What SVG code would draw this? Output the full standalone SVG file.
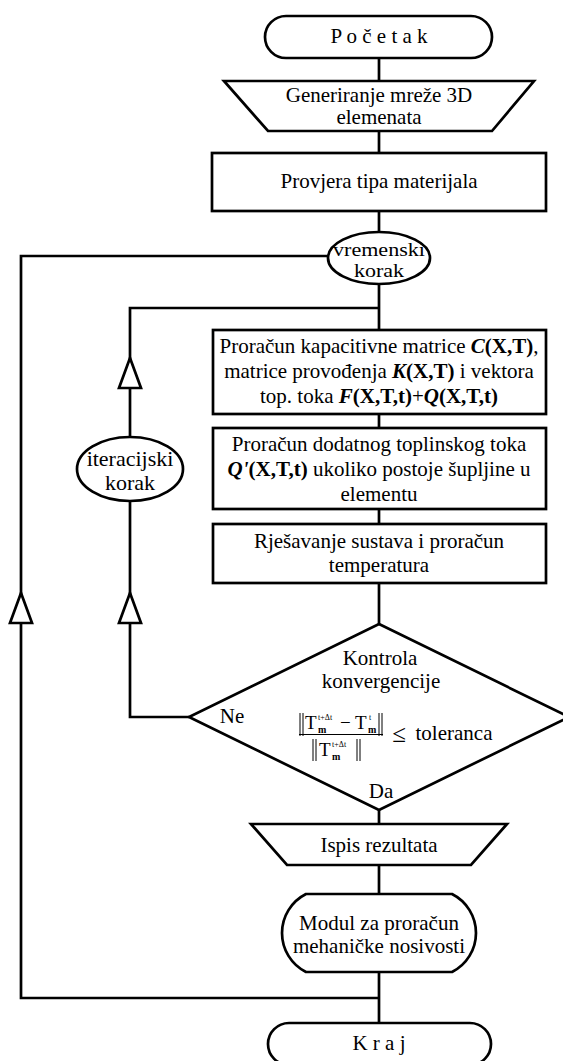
<svg xmlns="http://www.w3.org/2000/svg" width="563" height="1061" viewBox="0 0 563 1061">
<style>
.s{fill:#fff;stroke:#000;stroke-width:2.7}
.c{fill:none;stroke:#000;stroke-width:2.7}
.a{fill:#fff;stroke:#000;stroke-width:2.7;stroke-linejoin:miter}
.n{stroke:#000;stroke-width:1}
text{font-family:"Liberation Serif","Times New Roman",serif;font-size:21px;fill:#000;text-anchor:middle}
.b{font-weight:bold}
.bi{font-weight:bold;font-style:italic}
.f{font-size:19px;text-anchor:start}
.sup{font-size:8px;text-anchor:start}
.sub{font-size:10px;font-weight:bold;text-anchor:start}
</style>
<rect width="563" height="1061" fill="#fff"/>
<g id="connectors">
<path class="c" d="M379,58V81M379,131V153M379,211V232M379,284V330M379,414V428M379,509V524M379,583V624M379,810V824M379,865V894M379,972V1023"/>
<path class="c" d="M189,717H130V308H379"/>
<path class="c" d="M379,998H21V256H328"/>
<polygon class="a" points="130,358 119,388 141,388"/>
<polygon class="a" points="130,593 119,623 141,623"/>
<polygon class="a" points="21,593 10,623 32,623"/>
</g>
<g id="start">
<rect class="s" x="265" y="16" width="227" height="42" rx="21" ry="21"/>
<text x="379" y="43">P o č e t a k</text>
</g>
<g id="generate">
<polygon class="s" points="224,81 534,81 492,131 268,131"/>
<text x="379" y="102">Generiranje mreže 3D</text>
<text x="379" y="124">elemenata</text>
</g>
<g id="material">
<rect class="s" x="212" y="153" width="334" height="58"/>
<text x="379" y="188">Provjera tipa materijala</text>
</g>
<g id="timestep">
<ellipse class="s" cx="379" cy="258" rx="51" ry="26"/>
<text x="379" y="256" style="font-size:19px" textLength="92" lengthAdjust="spacingAndGlyphs">vremenski</text>
<text x="379" y="277" style="font-size:19px" textLength="50" lengthAdjust="spacingAndGlyphs">korak</text>
</g>
<g id="iterstep">
<ellipse class="s" cx="130" cy="469" rx="53" ry="32"/>
<text x="130" y="466" style="font-size:22px">iteracijski</text>
<text x="130" y="490" style="font-size:22px">korak</text>
</g>
<g id="matrices">
<rect class="s" x="213" y="330" width="333" height="84"/>
<text x="379" y="353">Proračun kapacitivne matrice <tspan class="bi">C</tspan><tspan class="b">(X,T)</tspan>,</text>
<text x="379" y="378">matrice provođenja <tspan class="bi">K</tspan><tspan class="b">(X,T)</tspan> i vektora</text>
<text x="379" y="403">top. toka <tspan class="bi">F</tspan><tspan class="b">(X,T,t)</tspan>+<tspan class="bi">Q</tspan><tspan class="b">(X,T,t)</tspan></text>
</g>
<g id="extraflux">
<rect class="s" x="213" y="428" width="333" height="81"/>
<text x="379" y="451">Proračun dodatnog toplinskog toka</text>
<text x="379" y="476"><tspan class="bi">Q'</tspan><tspan class="b">(X,T,t)</tspan> ukoliko postoje šupljine u</text>
<text x="379" y="501">elementu</text>
</g>
<g id="solve">
<rect class="s" x="213" y="524" width="333" height="59"/>
<text x="379" y="548">Rješavanje sustava i proračun</text>
<text x="379" y="572">temperatura</text>
</g>
<g id="convergence">
<polygon class="s" points="379,624 569,717 379,810 189,717"/>
<text x="380" y="665">Kontrola</text>
<text x="381" y="688">konvergencije</text>
<text x="232" y="723">Ne</text>
<text x="381" y="798">Da</text>
<path class="n" d="M300,713V736M303,713V736M379,713V736M382,713V736M299,734.5H383M313,739V761M316,739V761M357,739V761M360,739V761"/>
<text class="f" x="305" y="729">T</text>
<text class="sup" x="318" y="720">t+Δt</text>
<text class="sub" x="318" y="733">m</text>
<text class="f" x="340" y="729">−</text>
<text class="f" x="355" y="729">T</text>
<text class="sup" x="369" y="720">t</text>
<text class="sub" x="368" y="733">m</text>
<text class="f" x="319" y="756">T</text>
<text class="sup" x="332" y="747">t+Δt</text>
<text class="sub" x="332" y="760">m</text>
<text x="399" y="742" style="font-size:25px">≤</text>
<text x="454" y="740">toleranca</text>
</g>
<g id="output">
<polygon class="s" points="251,824 507,824 471,865 287,865"/>
<text x="379" y="852">Ispis rezultata</text>
</g>
<g id="mechanics">
<path class="s" d="M306,894H452A43.7,43.7 0 0 1 452,972H306A43.7,43.7 0 0 1 306,894Z"/>
<text x="379" y="930">Modul za proračun</text>
<text x="379" y="953">mehaničke nosivosti</text>
</g>
<g id="end">
<rect class="s" x="268" y="1023" width="223" height="42" rx="21" ry="21"/>
<text x="379" y="1050">K r a j</text>
</g>
</svg>
